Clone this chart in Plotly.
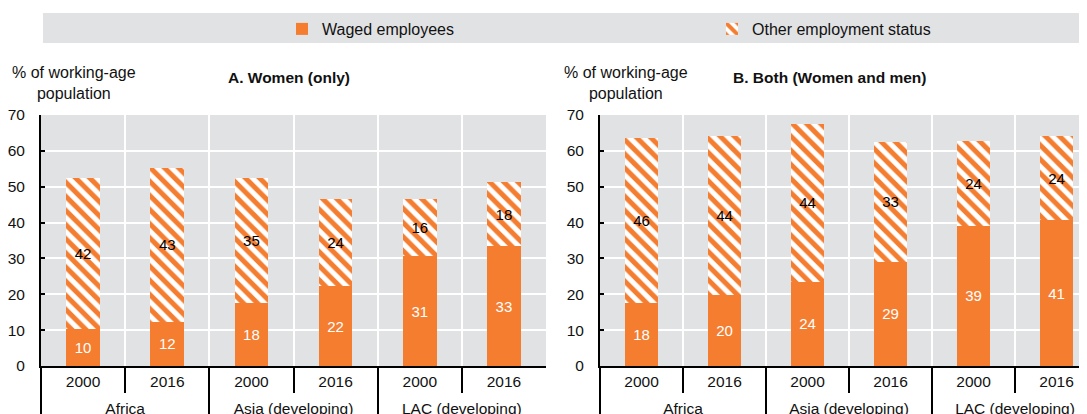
import plotly.graph_objects as go

# ---------------- data ----------------
regions = ["Africa", "Africa", "Asia (developing)", "Asia (developing)",
           "LAC (developing)", "LAC (developing)"]
years = ["2000", "2016", "2000", "2016", "2000", "2016"]

women_waged = [10.3, 12.4, 17.6, 22.2, 30.6, 33.4]
women_other = [42.2, 42.9, 34.8, 24.4, 16.0, 17.9]

both_waged = [17.6, 19.8, 23.5, 29.1, 39.1, 40.6]
both_other = [46.1, 44.4, 44.1, 33.4, 23.7, 23.6]

series_names = ["Waged employees", "Other employment status"]
panel_titles = ["A. Women (only)", "B. Both (Women and men)"]
y_title = "% of working-age<br>population"
y_ticks = [0, 10, 20, 30, 40, 50, 60, 70]

# ---------------- style ----------------
ORANGE = "#F47D30"
GREY = "#E1E2E4"
FONT = "Liberation Sans, Arial, sans-serif"
OFF = 8                      # page body margin of the html page
SW, SH = 1087, 414           # screen size
W, H = SW - OFF, SH - OFF    # figure size
MT = 115 - OFF               # top of plot area (screen y 115)
MB = H - (366 - OFF)         # bottom of plot area (screen y 366)
PH = H - MT - MB


def px_x(sx):
    """screen x -> paper x"""
    return (sx - OFF) / W


def px_y(sy):
    """screen y -> paper y"""
    return 1 + (MT - (sy - OFF)) / PH


# year labels padded with a tall (invisible) space so the region row sits lower
PAD = "<span style='font-size:22px'>\u00a0</span>"
year_labels = [PAD + y + PAD for y in years]

fig = go.Figure()

panels = [(women_waged, women_other, "x", "y"), (both_waged, both_other, "x2", "y2")]
for i, (wag, oth, xa, ya) in enumerate(panels):
    fig.add_trace(go.Bar(
        x=[regions, year_labels], y=wag, name=series_names[0],
        marker=dict(color=ORANGE, line=dict(width=0)),
        texttemplate="%{y:.0f}", textposition="inside", insidetextanchor="middle",
        textfont=dict(color="white", size=15, family=FONT),
        xaxis=xa, yaxis=ya, showlegend=(i == 0), legend="legend",
        hoverinfo="skip",
    ))
    fig.add_trace(go.Bar(
        x=[regions, year_labels], y=oth, name=series_names[1],
        marker=dict(color="white", line=dict(width=0),
                    pattern=dict(shape="\\", fgcolor=ORANGE, bgcolor="white",
                                 size=10, solidity=0.5, fillmode="replace")),
        texttemplate="%{y:.0f}", textposition="inside", insidetextanchor="middle",
        textfont=dict(color="black", size=15, family=FONT),
        xaxis=xa, yaxis=ya, showlegend=(i == 0), legend="legend2",
        hoverinfo="skip",
    ))

xcommon = dict(
    type="multicategory", showgrid=True, gridcolor="white", gridwidth=2,
    tickson="boundaries", ticks="outside", ticklen=25, tickwidth=2, tickcolor="black",
    showline=True, linecolor="black", linewidth=2,
    showdividers=True, dividercolor="black", dividerwidth=2,
    tickfont=dict(size=15.5, family=FONT, color="#111111"),
    automargin=False, fixedrange=True,
)
ycommon = dict(
    range=[0, 70], tickvals=y_ticks, showgrid=True, gridcolor="white", gridwidth=2,
    zeroline=False, showline=True, linecolor="black", linewidth=2,
    ticks="inside", ticklen=4, tickwidth=2, tickcolor="black",
    tickfont=dict(size=15.5, family=FONT, color="#111111"),
    ticklabelstandoff=11, automargin=False, fixedrange=True,
)

legcommon = dict(orientation="h", xanchor="left", yanchor="middle", y=px_y(29),
                 bgcolor="rgba(0,0,0,0)", borderwidth=0,
                 font=dict(size=16, family=FONT, color="#111111"))

fig.update_layout(
    width=W, height=H,
    margin=dict(l=0, r=0, t=MT, b=MB, pad=0),
    paper_bgcolor="white", plot_bgcolor=GREY,
    barmode="stack", bargap=0.6,
    font=dict(family=FONT, size=15, color="#111111"),
    xaxis=dict(domain=[px_x(41), px_x(546)], range=[-0.5, 5.5], anchor="y", **xcommon),
    yaxis=dict(domain=[0, 1], anchor="x", **ycommon),
    xaxis2=dict(domain=[px_x(600), 1.0], range=[-0.5, -0.5 + (SW - 600) / 83.0],
                anchor="y2", **xcommon),
    yaxis2=dict(domain=[0, 1], anchor="x2", **ycommon),
    legend=dict(x=px_x(322 - 40), **legcommon),
    legend2=dict(x=px_x(752 - 40), **legcommon),
    shapes=[dict(type="rect", xref="paper", yref="paper", x0=px_x(43), x1=1.0,
                 y0=px_y(43), y1=px_y(13), fillcolor=GREY, line=dict(width=0),
                 layer="below")],
    showlegend=True,
)

ann = []
for xc, t in [(288.5, panel_titles[0]), (829, panel_titles[1])]:
    ann.append(dict(text="<b>" + t + "</b>", x=px_x(xc), y=px_y(78), xref="paper",
                    yref="paper", xanchor="center", yanchor="middle", showarrow=False,
                    font=dict(size=15.5, family=FONT, color="#111111")))
for xc in [74, 626]:
    ann.append(dict(text=y_title, x=px_x(xc), y=px_y(83), xref="paper", yref="paper",
                    xanchor="center", yanchor="middle", showarrow=False, align="center",
                    font=dict(size=16, family=FONT, color="#111111")))
fig.update_layout(annotations=ann)

fig.write_html("out.html")
